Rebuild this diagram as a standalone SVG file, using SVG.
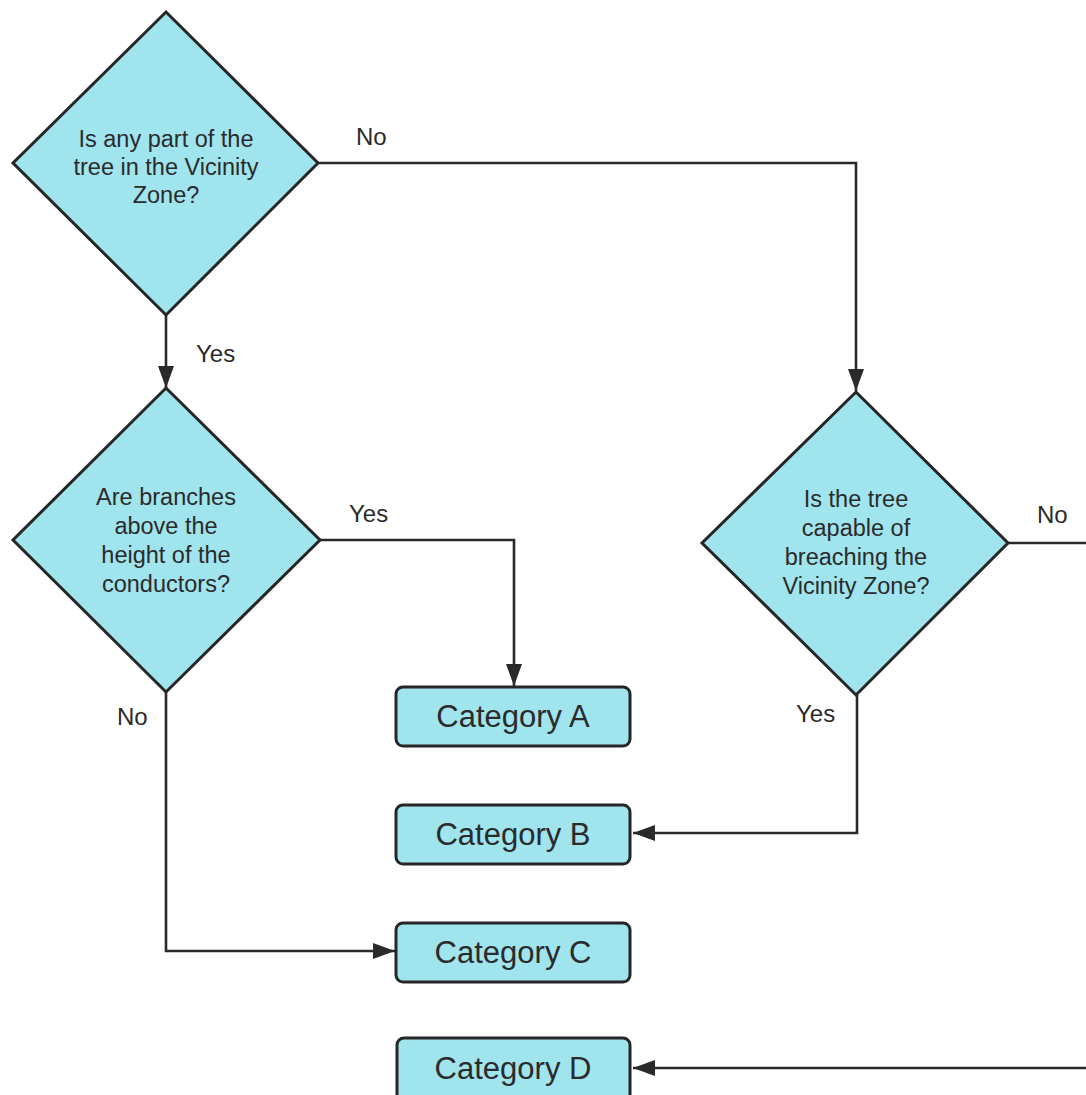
<svg xmlns="http://www.w3.org/2000/svg" width="1086" height="1095" viewBox="0 0 1086 1095">
  <defs>
    <style>
      .dec { fill: #A0E4EE; stroke: #262626; stroke-width: 3; stroke-linejoin: miter; }
      .box { fill: #A0E4EE; stroke: #262626; stroke-width: 3; }
      .q { font-family: "Liberation Sans", Arial, sans-serif; font-size: 23.5px; fill: #2b2b2b; text-anchor: middle; }
      .cat { font-family: "Liberation Sans", Arial, sans-serif; font-size: 31px; fill: #2b2b2b; text-anchor: middle; }
      .lbl { font-family: "Liberation Sans", Arial, sans-serif; font-size: 24px; fill: #2b2b2b; }
      .conn { fill: none; stroke: #2a2a2a; stroke-width: 2.6; }
    </style>
    <marker id="arrow" markerUnits="userSpaceOnUse" markerWidth="22" markerHeight="16" refX="22" refY="8" orient="auto">
      <path d="M0,0 L22,8 L0,16 Z" fill="#2a2a2a"/>
    </marker>
  </defs>
  <rect width="1086" height="1095" fill="#ffffff"/>

  <g id="connectors">
    <path class="conn" d="M318,163 H856 V391" marker-end="url(#arrow)"/>
    <path class="conn" d="M166,315 V388" marker-end="url(#arrow)"/>
    <path class="conn" d="M320,540 H514 V686" marker-end="url(#arrow)"/>
    <path class="conn" d="M1008,543 H1086"/>
    <path class="conn" d="M857,695 V833 H633" marker-end="url(#arrow)"/>
    <path class="conn" d="M166,692 V951 H395" marker-end="url(#arrow)"/>
    <path class="conn" d="M1086,1068 H633" marker-end="url(#arrow)"/>
  </g>

  <g id="labels">
    <text class="lbl" x="356" y="145">No</text>
    <text class="lbl" x="196" y="362">Yes</text>
    <text class="lbl" x="349" y="522">Yes</text>
    <text class="lbl" x="117" y="725">No</text>
    <text class="lbl" x="796" y="722">Yes</text>
    <text class="lbl" x="1037" y="523">No</text>
  </g>

  <g id="q1">
    <polygon class="dec" points="166,12 318,163 166,315 13,163"/>
    <text class="q" x="166" y="147">Is any part of the</text>
    <text class="q" x="166" y="175">tree in the Vicinity</text>
    <text class="q" x="166" y="203">Zone?</text>
  </g>

  <g id="q2">
    <polygon class="dec" points="166,388 320,540 166,692 13,540"/>
    <text class="q" x="166" y="505">Are branches</text>
    <text class="q" x="166" y="534">above the</text>
    <text class="q" x="166" y="563">height of the</text>
    <text class="q" x="166" y="592">conductors?</text>
  </g>

  <g id="q3">
    <polygon class="dec" points="856,392 1008,543 856,695 702,543"/>
    <text class="q" x="856" y="507">Is the tree</text>
    <text class="q" x="856" y="536">capable of</text>
    <text class="q" x="856" y="565">breaching the</text>
    <text class="q" x="856" y="594">Vicinity Zone?</text>
  </g>

  <g id="catA">
    <rect class="box" x="396" y="687" width="234" height="59" rx="7"/>
    <text class="cat" x="513" y="727">Category A</text>
  </g>
  <g id="catB">
    <rect class="box" x="396" y="805" width="234" height="59" rx="7"/>
    <text class="cat" x="513" y="845">Category B</text>
  </g>
  <g id="catC">
    <rect class="box" x="396" y="923" width="234" height="59" rx="7"/>
    <text class="cat" x="513" y="963">Category C</text>
  </g>
  <g id="catD">
    <rect class="box" x="397" y="1038" width="233" height="70" rx="7"/>
    <text class="cat" x="513" y="1079">Category D</text>
  </g>
</svg>
